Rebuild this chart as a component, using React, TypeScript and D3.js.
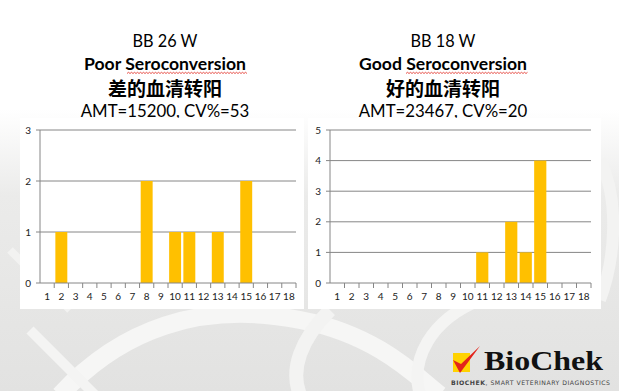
import React from "react"
import * as d3 from "d3"

// bins of the titre histogram
const bins = ["1", "2", "3", "4", "5", "6", "7", "8", "9", "10", "11", "12", "13", "14", "15", "16", "17", "18"]

// flock BB 26 W, poor seroconversion
const poorCounts = [0, 1, 0, 0, 0, 0, 0, 2, 0, 1, 1, 0, 1, 0, 2, 0, 0, 0]
const poorTicks = [0, 1, 2, 3]

// flock BB 18 W, good seroconversion
const goodCounts = [0, 0, 0, 0, 0, 0, 0, 0, 0, 0, 1, 0, 2, 1, 4, 0, 0, 0]
const goodTicks = [0, 1, 2, 3, 4, 5]

const poorTitles = ["BB 26 W", "Poor Seroconversion", "差的血清转阳", "AMT=15200, CV%=53"]
const goodTitles = ["BB 18 W", "Good Seroconversion", "好的血清转阳", "AMT=23467, CV%=20"]

const W = 619
const H = 391
const latin = "Lato, 'Open Sans', sans-serif"
const cjk = "'Noto Sans CJK SC', sans-serif"

const Squiggle = ({ x1, x2, y }) => {
  let d = `M${x1},${y}`
  let up = true
  for (let x = x1 + 1.5; x <= x2; x += 1.5) {
    d += ` L${x},${up ? y - 1.2 : y}`
    up = !up
  }
  return <path d={d} fill="none" stroke="#e0241b" strokeWidth={0.8} />
}

const Titles = ({ cx, lines, boldWord, boldWidth }) => (
  <g textAnchor="middle" fill="#000">
    <text x={cx} y={47} fontFamily={latin} fontSize={16.3}>{lines[0]}</text>
    <text x={cx} y={70} fontFamily={latin} fontSize={17.6} fontWeight="bold">{lines[1]}</text>
    <text x={cx} y={96} fontFamily={cjk} fontSize={19} fontWeight="bold">{lines[2]}</text>
    <text x={cx} y={117} fontFamily={latin} fontSize={16.8}>{lines[3]}</text>
    <Squiggle x1={cx - boldWidth / 2 + boldWord} x2={cx + boldWidth / 2} y={73.5} />
  </g>
)

const Histogram = ({ box, plot, counts, ticks }) => {
  const x = d3.scaleBand().domain(bins).range([plot.left, plot.right]).paddingInner(0.16).paddingOuter(0.08)
  const edges = d3.scaleBand().domain(bins).range([plot.left, plot.right]).padding(0)
  const y = d3.scaleLinear().domain([0, d3.max(ticks)]).range([plot.bottom, plot.top])
  const step = edges.step()
  return (
    <g>
      <rect x={box.x} y={box.y} width={box.w} height={box.h} fill="#fff" />
      {ticks.filter(t => t > 0).map(t => (
        <line key={t} x1={plot.left} x2={plot.right} y1={y(t)} y2={y(t)} stroke="#868686" strokeWidth={1} />
      ))}
      {counts.map((c, i) => (
        c > 0 ? (
          <rect key={i} x={x(bins[i])} y={y(c)} width={x.bandwidth()} height={y(0) - y(c)} fill="#ffc000" />
        ) : null
      ))}
      <line x1={plot.left} x2={plot.left} y1={plot.top} y2={plot.bottom} stroke="#868686" />
      <line x1={plot.left} x2={plot.right} y1={plot.bottom} y2={plot.bottom} stroke="#868686" />
      {ticks.map(t => (
        <g key={t}>
          <line x1={plot.left - 4} x2={plot.left} y1={y(t)} y2={y(t)} stroke="#868686" />
          <text x={plot.left - 9} y={y(t)} dy="0.35em" textAnchor="end" fontFamily={latin} fontSize={10} fill="#222">{t}</text>
        </g>
      ))}
      {bins.map((b, i) => (
        <g key={b}>
          <line x1={edges(b) + step} x2={edges(b) + step} y1={plot.bottom} y2={plot.bottom + 5} stroke="#868686" />
          <text x={edges(b) + step / 2} y={plot.bottom + 17} textAnchor="middle" fontFamily={latin} fontSize={10} fill="#222">{b}</text>
        </g>
      ))}
    </g>
  )
}

const App = () => {
  return (
    <svg width={W} height={H} style={{ position: "absolute", left: 0, top: 0 }}>
      <defs>
        <linearGradient id="bg" x1="0" y1="0" x2="0" y2="1">
          <stop offset="0" stopColor="#ffffff" />
          <stop offset="0.28" stopColor="#ffffff" />
          <stop offset="0.5" stopColor="#ebebea" />
          <stop offset="1" stopColor="#e2e2e1" />
        </linearGradient>
      </defs>
      <rect width={W} height={H} fill="url(#bg)" />
      {/* background swooshes */}
      <path d="M60,395 C120,330 200,300 300,320 C380,335 420,380 440,395" fill="none" stroke="#f6f6f5" strokeWidth={18} />
      <path d="M30,330 L95,395" fill="none" stroke="#f4f4f3" strokeWidth={10} />
      <path d="M10,250 L70,310" fill="none" stroke="#f2f2f1" strokeWidth={8} />
      <path d="M330,310 C300,340 290,370 300,395" fill="none" stroke="#f3f3f2" strokeWidth={14} />
      <path d="M480,300 C430,320 410,360 420,395" fill="none" stroke="#f4f4f3" strokeWidth={12} />
      <path d="M600,160 C620,200 615,260 600,300" fill="none" stroke="#f3f3f2" strokeWidth={12} />

      <Titles cx={165} lines={poorTitles} boldWord={44} boldWidth={164} />
      <Titles cx={443} lines={goodTitles} boldWord={48} boldWidth={170} />

      <Histogram
        box={{ x: 20, y: 118, w: 284, h: 191 }}
        plot={{ left: 40, right: 296, top: 130, bottom: 283 }}
        counts={poorCounts}
        ticks={poorTicks}
      />
      <Histogram
        box={{ x: 308, y: 118, w: 293, h: 191 }}
        plot={{ left: 330, right: 591, top: 130, bottom: 283 }}
        counts={goodCounts}
        ticks={goodTicks}
      />

      {/* BioChek logo */}
      <g>
        <rect x={453} y={353} width={17} height={19} fill="#ffd200" />
        <path d="M453,360 L460,373 L480,346 L461,364 Z" fill="#e3241b" />
        <text x={484} y={370} fontFamily="'Liberation Serif', serif" fontWeight="bold" fontSize={27}
          textLength={119} lengthAdjust="spacingAndGlyphs" fill="#111">BioChek</text>
        <text x={451} y={385} fontFamily="'DejaVu Sans', sans-serif" fontSize={6.2} fill="#444"
          textLength={159} lengthAdjust="spacing">
          <tspan fontWeight="bold">BIOCHEK</tspan>, SMART VETERINARY DIAGNOSTICS
        </text>
      </g>
    </svg>
  )
}

export default App
